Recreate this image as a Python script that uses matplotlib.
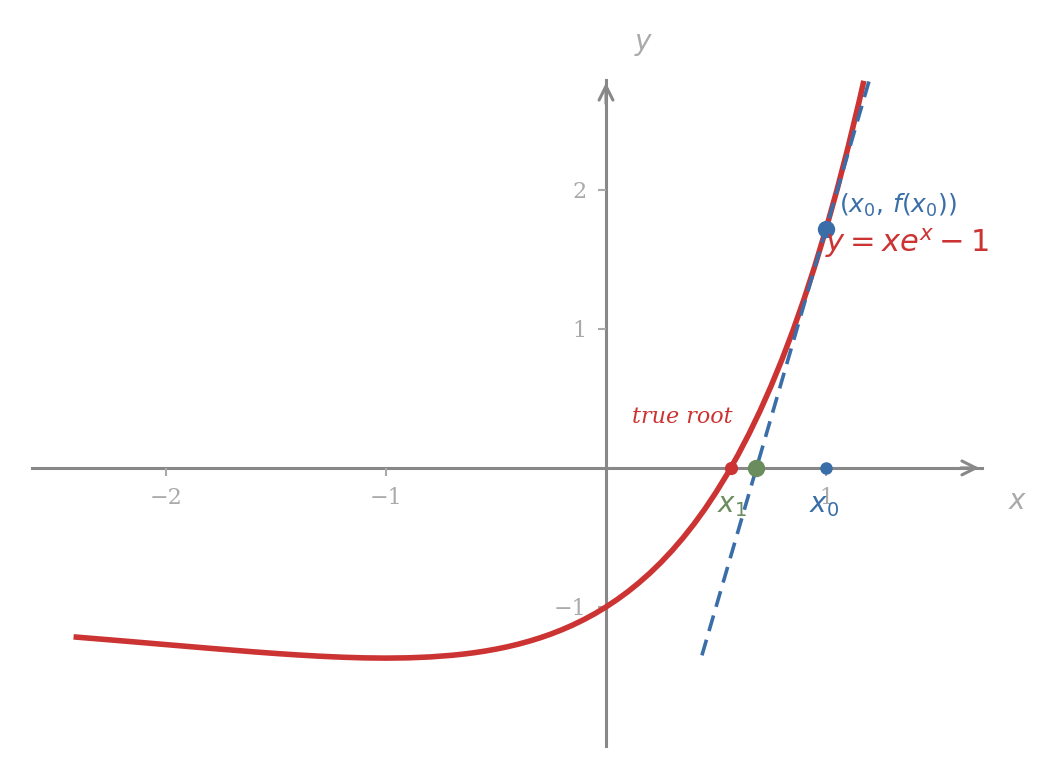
import matplotlib
matplotlib.use("Agg")
import matplotlib.pyplot as plt

# curve y = x e^x - 1
curve_x = [-2.42, -2.2, -2.0, -1.8, -1.6, -1.5, -1.4, -1.3, -1.2, -1.1, -1.0, -0.9, -0.8, -0.7,
           -0.65, -0.6, -0.55, -0.5, -0.45, -0.4, -0.35, -0.3, -0.25, -0.2, -0.15, -0.1, -0.05,
           0.0, 0.05, 0.1, 0.15, 0.2, 0.25, 0.3, 0.35, 0.4, 0.45, 0.5, 0.55, 0.6, 0.65, 0.7,
           0.75, 0.8, 0.85, 0.9, 0.95, 1.0, 1.05, 1.1, 1.15, 1.172]
curve_y = [-1.2152, -1.2438, -1.2707, -1.2975, -1.3230, -1.3347, -1.3452, -1.3543, -1.3614,
           -1.3662, -1.3679, -1.3659, -1.3595, -1.3476, -1.3393, -1.3293, -1.3173, -1.3033,
           -1.2869, -1.2681, -1.2466, -1.2222, -1.1947, -1.1637, -1.1291, -1.0905, -1.0476,
           -1.0, -0.9474, -0.8895, -0.8257, -0.7557, -0.6790, -0.5950, -0.5033, -0.4033,
           -0.2943, -0.1756, -0.0467, 0.0933, 0.2451, 0.4096, 0.5878, 0.7804, 0.9887, 1.2136,
           1.4564, 1.7183, 2.0006, 2.3046, 2.6319, 2.784]

# tangent line at x0
tangent_x = [0.436, 1.2]
tangent_y = [-1.348, 2.806]

x0 = 1.0
fx0 = 1.7183
x1 = 0.684
true_root = 0.567

xticks = [-2, -1, 1]
yticks = [-1, 1, 2]

RED = "#cc3333"
BLUE = "#3a6ea8"
GREEN = "#6b8c5c"
AXC = "#888888"
TXC = "#aaaaaa"

fig = plt.figure(figsize=(10.62, 7.78), dpi=100)
ax = fig.add_axes([32/1062, 32/778, 950/1062, 666/778])
ax.set_xlim(-2.609, 1.709)
ax.set_ylim(-2.0, 2.79)

for s in ["top", "right"]:
    ax.spines[s].set_visible(False)
for s in ["left", "bottom"]:
    ax.spines[s].set_position(("data", 0))
    ax.spines[s].set_color(AXC)
    ax.spines[s].set_linewidth(2.2)
    ax.spines[s].set_zorder(1)

ax.set_xticks(xticks)
ax.set_yticks(yticks)
ax.set_xticklabels([f"\u2212{abs(t)}" if t < 0 else str(t) for t in xticks])
ax.set_yticklabels([f"\u2212{abs(t)}" if t < 0 else str(t) for t in yticks])
ax.tick_params(axis="both", direction="out", length=6, width=1.5, color=TXC,
               labelcolor=TXC, labelsize=16, pad=8)
for lab in ax.get_xticklabels() + ax.get_yticklabels():
    lab.set_family("DejaVu Serif")

# arrow heads
ax.annotate("", xy=(1.709, 0), xytext=(1.6, 0),
            arrowprops=dict(arrowstyle="->,head_length=1.0,head_width=0.5", color=AXC, lw=2.2),
            annotation_clip=False)
ax.annotate("", xy=(0, 2.79), xytext=(0, 2.6),
            arrowprops=dict(arrowstyle="->,head_length=1.0,head_width=0.5", color=AXC, lw=2.2),
            annotation_clip=False)

ax.plot(curve_x, curve_y, color=RED, lw=4.0, zorder=3, solid_capstyle="butt",
        solid_joinstyle="round")
ax.plot(tangent_x, tangent_y, color=BLUE, lw=2.6, ls=(0, (4.5, 2.5)), zorder=4)

ax.plot([true_root], [0], "o", color=RED, ms=8.5, zorder=5)
ax.plot([x1], [0], "o", color=GREEN, ms=11.5, zorder=5)
ax.plot([x0], [0], "o", color=BLUE, ms=8, zorder=5)
ax.plot([x0], [fx0], "o", color=BLUE, ms=11.5, zorder=6)

ax.text(0.118, 0.367, "true root", color=RED, fontsize=16, family="DejaVu Serif",
        style="italic", ha="left", va="center")
ax.text(0.573, -0.27, r"$x_1$", color=GREEN, fontsize=20, ha="center", va="center", zorder=7)
ax.text(0.99, -0.27, r"$x_0$", color=BLUE, fontsize=20, ha="center", va="center", zorder=7)
ax.text(1.06, 1.89, r"$(x_0,\,f(x_0))$", color=BLUE, fontsize=18, ha="left", va="center", zorder=7)
ax.text(0.995, 1.62, r"$y = xe^x - 1$", color=RED, fontsize=22, ha="left", va="center", zorder=7)

ax.text(0.17, 3.05, r"$y$", color=TXC, fontsize=20, ha="center", va="center", clip_on=False)
ax.text(1.87, -0.24, r"$x$", color=TXC, fontsize=20, ha="center", va="center", clip_on=False)

fig.savefig("out.png", dpi=100)
